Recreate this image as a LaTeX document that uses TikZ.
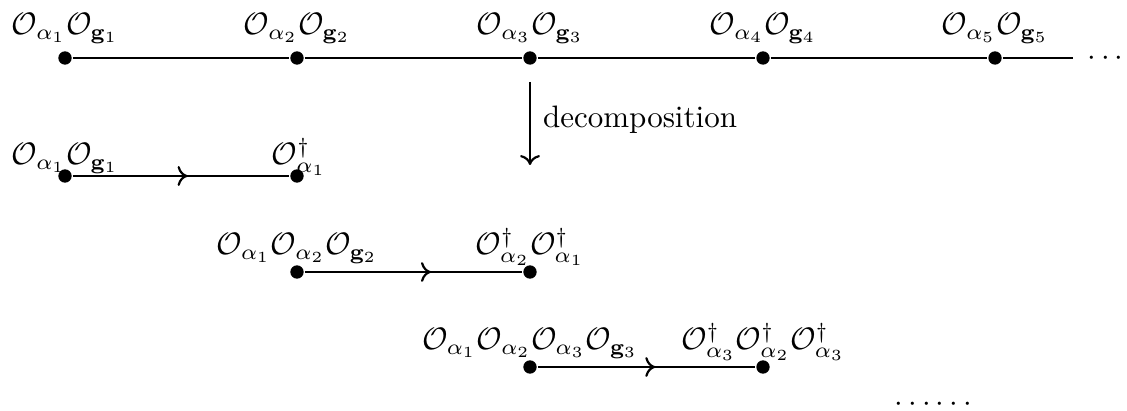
\documentclass[tikz,border=0pt]{standalone}
\usepackage{amsmath,amssymb}
\usetikzlibrary{decorations.markings,arrows.meta}
\begin{document}
\begin{tikzpicture}[x=0.3226pt,y=-0.3226pt,line width=0.7pt,
  dot/.style={circle,fill,inner sep=0pt,minimum size=4.3pt},
  lab/.style={anchor=base,inner sep=0pt},
  midarrow/.style={postaction={decorate},decoration={markings,mark=at position #1 with {\arrow{To[length=3.2pt,width=6.4pt]}}}},
  midarrow/.default=0.5]
\useasboundingbox (0,0) rectangle (1127,411);
% top row
\node[dot] (d1) at (65,58) {};
\node[dot] (d2) at (297,58) {};
\node[dot] (d3) at (530,58) {};
\node[dot] (d4) at (763,58) {};
\node[dot] (d5) at (995,58) {};
\coordinate (lend) at (1073,58);
\draw (d1) -- (d2) -- (d3) -- (d4) -- (d5) -- (lend);
\node[lab] (t1) at (65,35) {$\mathcal{O}_{\alpha_1}\mathcal{O}_{\mathbf{g}_1}$};
\node[lab] (t2) at (297,35) {$\mathcal{O}_{\alpha_2}\mathcal{O}_{\mathbf{g}_2}$};
\node[lab] (t3) at (530,35) {$\mathcal{O}_{\alpha_3}\mathcal{O}_{\mathbf{g}_3}$};
\node[lab] (t4) at (763,35) {$\mathcal{O}_{\alpha_4}\mathcal{O}_{\mathbf{g}_4}$};
\node[lab] (t5) at (995,35) {$\mathcal{O}_{\alpha_5}\mathcal{O}_{\mathbf{g}_5}$};
\node[lab] (tdots) at (1108,66) {$\cdots$};
% decomposition arrow
\coordinate (dtop) at (530,82);
\coordinate (dbot) at (530,165);
\draw[-{To[length=3.2pt,width=6.4pt]}] (dtop) -- (dbot);
\node[lab,anchor=base west] (dlab) at (542,128) {decomposition};
% row 2
\node[dot] (a1) at (65,176) {};
\node[dot] (a2) at (297,176) {};
\draw[midarrow=0.53] (a1) -- (a2);
\node[lab] (al1) at (65,165) {$\mathcal{O}_{\alpha_1}\mathcal{O}_{\mathbf{g}_1}$};
\node[lab] (al2) at (299,165) {$\mathcal{O}^\dagger_{\alpha_1}$};
% row 3
\node[dot] (b1) at (297,272) {};
\node[dot] (b2) at (530,272) {};
\draw[midarrow=0.58] (b1) -- (b2);
\node[lab] (bl1) at (297,255) {$\mathcal{O}_{\alpha_1}\mathcal{O}_{\alpha_2}\mathcal{O}_{\mathbf{g}_2}$};
\node[lab] (bl2) at (530,255) {$\mathcal{O}^\dagger_{\alpha_2}\mathcal{O}^\dagger_{\alpha_1}$};
% row 4
\node[dot] (c1) at (530,367) {};
\node[dot] (c2) at (763,367) {};
\draw[midarrow=0.54] (c1) -- (c2);
\node[lab] (cl1) at (530,350) {$\mathcal{O}_{\alpha_1}\mathcal{O}_{\alpha_2}\mathcal{O}_{\alpha_3}\mathcal{O}_{\mathbf{g}_3}$};
\node[lab] (cl2) at (763,350) {$\mathcal{O}^\dagger_{\alpha_3}\mathcal{O}^\dagger_{\alpha_2}\mathcal{O}^\dagger_{\alpha_3}$};
\node[lab] (bdots) at (936,412) {$\cdots\cdots$};
\end{tikzpicture}
\end{document}
